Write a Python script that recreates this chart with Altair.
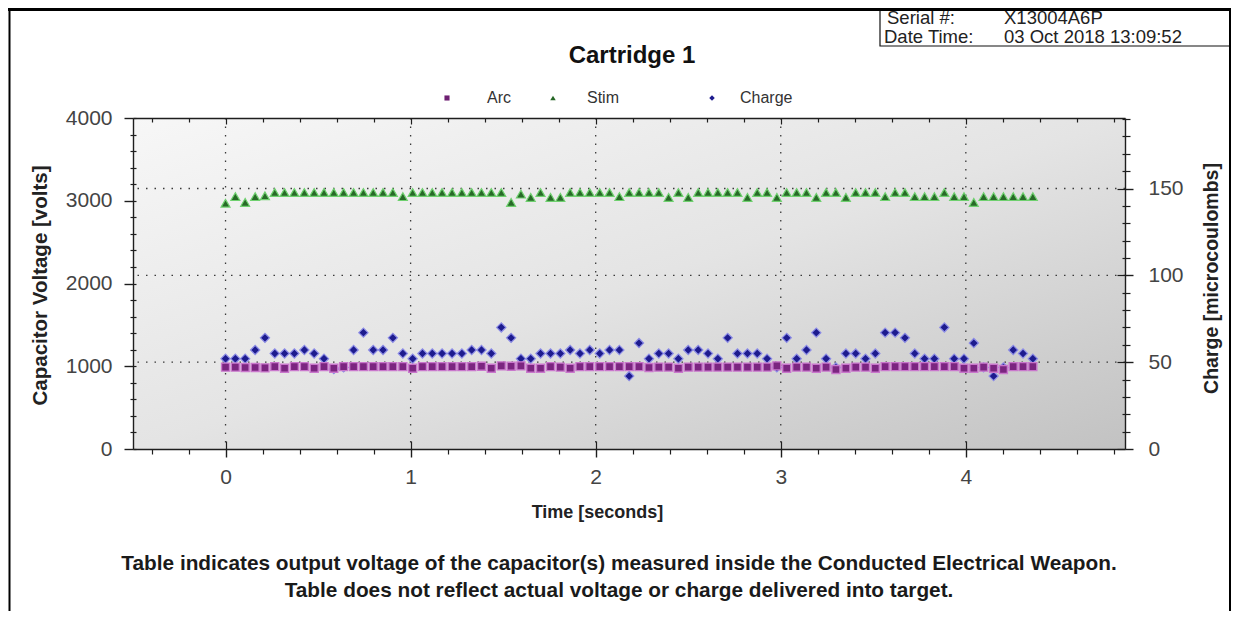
import altair as alt
import pandas as pd

# ---------------- data ----------------
time_s = [0.000, 0.053, 0.106, 0.160, 0.213, 0.266, 0.319, 0.372, 0.426, 0.479,
          0.532, 0.585, 0.638, 0.692, 0.745, 0.798, 0.851, 0.904, 0.958, 1.011,
          1.064, 1.117, 1.170, 1.224, 1.277, 1.330, 1.383, 1.436, 1.490, 1.543,
          1.596, 1.649, 1.702, 1.756, 1.809, 1.862, 1.915, 1.968, 2.022, 2.075,
          2.128, 2.181, 2.234, 2.288, 2.341, 2.394, 2.447, 2.500, 2.554, 2.607,
          2.660, 2.713, 2.766, 2.820, 2.873, 2.926, 2.979, 3.032, 3.086, 3.139,
          3.192, 3.245, 3.298, 3.352, 3.405, 3.458, 3.511, 3.564, 3.618, 3.671,
          3.724, 3.777, 3.830, 3.884, 3.937, 3.990, 4.043, 4.096, 4.150, 4.203,
          4.256, 4.309, 4.362]

stim_volts = [2970, 3050, 2980, 3050, 3060, 3100, 3100, 3100, 3100, 3100,
              3100, 3100, 3100, 3100, 3100, 3100, 3100, 3100, 3050, 3100,
              3100, 3100, 3100, 3100, 3100, 3100, 3100, 3100, 3100, 2980,
              3080, 3040, 3100, 3040, 3040, 3100, 3100, 3100, 3100, 3100,
              3050, 3100, 3100, 3100, 3100, 3040, 3100, 3040, 3100, 3100,
              3100, 3100, 3100, 3040, 3100, 3100, 3040, 3100, 3100, 3100,
              3040, 3100, 3100, 3040, 3100, 3100, 3100, 3050, 3100, 3100,
              3050, 3050, 3050, 3100, 3050, 3050, 2980, 3050, 3050, 3050,
              3050, 3050, 3050]

arc_volts = [990, 990, 985, 985, 980, 995, 975, 995, 995, 975,
             995, 975, 995, 995, 995, 995, 995, 995, 995, 975,
             995, 995, 995, 995, 995, 995, 1000, 975, 1005, 1000,
             1005, 975, 975, 995, 990, 975, 995, 995, 995, 995,
             995, 995, 995, 985, 990, 990, 975, 990, 990, 990,
             990, 990, 990, 990, 990, 990, 1005, 975, 990, 990,
             975, 990, 960, 975, 990, 990, 975, 995, 995, 995,
             995, 995, 995, 995, 995, 975, 975, 990, 975, 960,
             995, 995, 995]

charge_uc = [52, 52, 52, 57, 64, 55, 55, 55, 57, 55,
             52, 46, 47, 57, 67, 57, 57, 64, 55, 52,
             55, 55, 55, 55, 55, 57, 57, 55, 70, 64,
             52, 52, 55, 55, 55, 57, 55, 57, 55, 57,
             57, 42, 61, 52, 55, 55, 52, 57, 57, 55,
             52, 64, 55, 55, 55, 52, 47, 64, 52, 57,
             67, 52, 47, 55, 55, 52, 55, 67, 67, 64,
             55, 52, 52, 70, 52, 52, 61, 47, 42, 47,
             57, 55, 52]

# tick / grid values
x_major = [0, 1, 2, 3, 4]
x_minor = [-0.4, -0.2, 0.2, 0.4, 0.6, 0.8, 1.2, 1.4, 1.6, 1.8, 2.2, 2.4, 2.6, 2.8,
           3.2, 3.4, 3.6, 3.8, 4.2, 4.4, 4.6, 4.8]
volt_major = [0, 1000, 2000, 3000, 4000]
volt_minor = [200, 400, 600, 800, 1200, 1400, 1600, 1800, 2200, 2400, 2600, 2800,
              3200, 3400, 3600, 3800]
charge_major = [0, 50, 100, 150]
charge_minor = [10, 20, 30, 40, 60, 70, 80, 90, 110, 120, 130, 140, 160, 170, 180, 190]
grid_time = [0, 1, 2, 3, 4]
grid_charge = [50, 100, 150]

# texts
title_text = "Cartridge 1"
series_names = ["Arc", "Stim", "Charge"]
x_title = "Time [seconds]"
y_left_title = "Capacitor Voltage [volts]"
y_right_title = "Charge [microcoulombs]"
caption_lines = ["Table indicates output voltage of the capacitor(s) measured inside the Conducted Electrical Weapon.",
                 "Table does not reflect actual voltage or charge delivered into target."]
serial_labels = ["Serial #:", "Date Time:"]
serial_values = ["X13004A6P", "03 Oct 2018 13:09:52"]

# ---------------- layout / style ----------------
FONT = "Liberation Sans"
W, H = 992, 331
PAD_L, PAD_T = 125, 110
TOTAL_W, TOTAL_H = 1223, 603
AX = "#1e1e1e"
LBL = "#444444"

df = pd.DataFrame({"Time": time_s, "Arc": arc_volts, "Stim": stim_volts, "Charge": charge_uc})
one = pd.DataFrame({"k": [0]})

xs = alt.Scale(domain=[-0.5, 4.86], nice=False, zero=False)
yls = alt.Scale(domain=[0, 4000], nice=False, zero=False)
yrs = alt.Scale(domain=[0, 190.6], nice=False, zero=False)


def tick_axis(orient, values, size, offset=0, domain=False):
    return alt.Axis(orient=orient, values=values, tickSize=size, offset=offset,
                    domain=domain, domainColor=AX, domainWidth=1.4,
                    ticks=size > 0, labels=False, grid=False, title="",
                    tickColor=AX, tickWidth=1.2, zindex=1)


x_main = alt.Axis(orient="bottom", values=x_major, format="d", tickSize=8, tickWidth=1.4,
                  tickColor=AX, domain=True, domainColor=AX, domainWidth=1.4,
                  labelFont=FONT, labelFontSize=21, labelColor=LBL, labelPadding=9,
                  labelOverlap=False, labelFlush=False, grid=False,
                  title=x_title, titleFont=FONT, titleFontSize=18, titleFontWeight="bold",
                  titleColor="#222", titleX=464, titleY=63, titleAlign="center",
                  titleBaseline="middle", titleAngle=0, zindex=1)

yl_main = alt.Axis(orient="left", values=volt_major, format="d", tickSize=9, tickWidth=1.4,
                   tickColor=AX, domain=True, domainColor=AX, domainWidth=1.4,
                   labelFont=FONT, labelFontSize=21, labelColor=LBL, labelPadding=12,
                   labelOverlap=False, labelFlush=False, grid=False,
                   title=y_left_title, titleFont=FONT, titleFontSize=20.5, titleFontWeight="bold",
                   titleColor="#222", titleX=-93, titleY=167, titleAngle=270,
                   titleAlign="center", titleBaseline="middle", zindex=1)

yr_main = alt.Axis(orient="right", values=charge_major, format="d", tickSize=8, tickWidth=1.4,
                   tickColor=AX, domain=True, domainColor=AX, domainWidth=1.4,
                   labelFont=FONT, labelFontSize=21, labelColor=LBL, labelPadding=15,
                   labelOverlap=False, labelFlush=False, grid=False,
                   title=y_right_title, titleFont=FONT, titleFontSize=19.5, titleFontWeight="bold",
                   titleColor="#222", titleX=86, titleY=160, titleAngle=270,
                   titleAlign="center", titleBaseline="middle", zindex=1)

# ---------------- layers ----------------
bg = alt.Chart(one).mark_rect(
    fill={"gradient": "linear", "x1": 0, "y1": 0, "x2": 1, "y2": 1,
          "stops": [{"offset": 0, "color": "#f7f7f7"}, {"offset": 0.5, "color": "#e4e4e4"},
                    {"offset": 1, "color": "#c2c2c2"}]}
).encode(x=alt.value(0), x2=alt.value(W), y=alt.value(0), y2=alt.value(H))

grid_v = alt.Chart(pd.DataFrame({"t": grid_time})).mark_rule(
    color="#3a3a3a", strokeWidth=1.3, strokeDash=[1.5, 7]
).encode(x=alt.X("t:Q", scale=xs, axis=None))

grid_h = alt.Chart(pd.DataFrame({"c": grid_charge})).mark_rule(
    color="#3a3a3a", strokeWidth=1.3, strokeDash=[1.5, 7]
).encode(y=alt.Y("c:Q", scale=yrs, axis=None))

charge_pts = alt.Chart(df).mark_point(
    shape="diamond", filled=True, size=85, fill="#1d1b8e", stroke="#8c8ce6",
    strokeWidth=1.2, opacity=1
).encode(x=alt.X("Time:Q", scale=xs, axis=None),
         y=alt.Y("Charge:Q", scale=yrs, axis=yr_main))

arc_pts = alt.Chart(df).mark_point(
    shape="square", filled=True, size=64, fill="#7b2580", stroke="#c977cc",
    strokeWidth=1.4, opacity=1
).encode(x=alt.X("Time:Q", scale=xs, axis=x_main),
         y=alt.Y("Arc:Q", scale=yls, axis=yl_main))

stim_pts = alt.Chart(df).mark_point(
    shape="triangle-up", filled=True, size=80, fill="#276a27", stroke="#6fd06f",
    strokeWidth=1.2, opacity=1
).encode(x=alt.X("Time:Q", scale=xs, axis=None),
         y=alt.Y("Stim:Q", scale=yls, axis=None))


def axis_layer(xaxis, yfield, yscale, yaxis):
    return alt.Chart(df).mark_point(opacity=0).encode(
        x=alt.X("Time:Q", scale=xs, axis=xaxis),
        y=alt.Y(yfield, scale=yscale, axis=yaxis))


ax1 = axis_layer(tick_axis("bottom", x_minor, 5), "Arc:Q", yls, tick_axis("left", volt_minor, 6, offset=-3))
ax2 = axis_layer(tick_axis("bottom", x_major, 8, offset=-8), "Charge:Q", yrs, tick_axis("right", charge_minor, 5))
ax3 = axis_layer(tick_axis("top", x_major, 0, domain=True), "Charge:Q", yrs, tick_axis("right", charge_major, 8, offset=-8))
ax4 = axis_layer(tick_axis("top", x_minor, 4, offset=-4), "Charge:Q", yrs, tick_axis("right", charge_minor, 3, offset=-3))
ax5 = axis_layer(tick_axis("top", x_major, 6, offset=-6), "Arc:Q", yls, tick_axis("left", volt_major, 3, offset=-3))

# ---------------- annotations ----------------
title = alt.Chart(one).mark_text(
    text=title_text, font=FONT, fontSize=24, fontWeight="bold", color="#111",
    align="center", baseline="middle"
).encode(x=alt.value(499), y=alt.value(-62))

legend_y = -20
leg_arc_sym = alt.Chart(one).mark_point(shape="square", filled=True, size=26, color="#6e1f72", opacity=1
                                        ).encode(x=alt.value(314), y=alt.value(legend_y))
leg_stim_sym = alt.Chart(one).mark_point(shape="triangle-up", filled=True, size=30, color="#246624", opacity=1
                                         ).encode(x=alt.value(420), y=alt.value(legend_y))
leg_charge_sym = alt.Chart(one).mark_point(shape="diamond", filled=True, size=30, color="#1d1b8e", opacity=1
                                           ).encode(x=alt.value(579), y=alt.value(legend_y))


def leg_text(txt, x):
    return alt.Chart(one).mark_text(text=txt, font=FONT, fontSize=16, color="#333",
                                    align="left", baseline="middle"
                                    ).encode(x=alt.value(x), y=alt.value(legend_y))


leg_arc_txt = leg_text(series_names[0], 354)
leg_stim_txt = leg_text(series_names[1], 454)
leg_charge_txt = leg_text(series_names[2], 607)


def cap_text(txt, y):
    return alt.Chart(one).mark_text(text=txt, font=FONT, fontSize=20.8, fontWeight="bold",
                                    color="#1a1a1a", align="center", baseline="middle"
                                    ).encode(x=alt.value(486), y=alt.value(y))


cap1 = cap_text(caption_lines[0], 446)
cap2 = cap_text(caption_lines[1], 473)

serial_box = alt.Chart(one).mark_rect(fill="white", stroke="#111", strokeWidth=1.2
                                      ).encode(x=alt.value(747), x2=alt.value(1097),
                                               y=alt.value(-109.5), y2=alt.value(-72))


def box_text(txt, x, y):
    return alt.Chart(one).mark_text(text=txt, font=FONT, fontSize=18.5, color="#222",
                                    align="left", baseline="middle"
                                    ).encode(x=alt.value(x), y=alt.value(y))


s1 = box_text(serial_labels[0], 754, -100)
s2 = box_text(serial_values[0], 871, -100)
s3 = box_text(serial_labels[1], 751, -81)
s4 = box_text(serial_values[1], 871, -81)

frame_top = alt.Chart(one).mark_rule(color="#000", strokeWidth=3).encode(
    x=alt.value(-125), x2=alt.value(TOTAL_W - PAD_L), y=alt.value(-108.5))
frame_left = alt.Chart(one).mark_rule(color="#000", strokeWidth=2).encode(
    x=alt.value(-123.5), y=alt.value(-110), y2=alt.value(TOTAL_H - PAD_T))
frame_right = alt.Chart(one).mark_rule(color="#000", strokeWidth=2).encode(
    x=alt.value(1097), y=alt.value(-110), y2=alt.value(TOTAL_H - PAD_T))

chart = alt.layer(
    bg, grid_v, grid_h, charge_pts, arc_pts, stim_pts,
    ax1, ax2, ax3, ax4, ax5,
    title, leg_arc_sym, leg_stim_sym, leg_charge_sym, leg_arc_txt, leg_stim_txt, leg_charge_txt,
    cap1, cap2, serial_box, s1, s2, s3, s4, frame_top, frame_left, frame_right
).resolve_scale(x="independent", y="independent").properties(
    width=W, height=H,
    autosize=alt.AutoSizeParams(type="none"),
    padding={"left": PAD_L, "top": PAD_T, "right": TOTAL_W - PAD_L - W, "bottom": TOTAL_H - PAD_T - H},
    background="white"
).configure_view(strokeWidth=0)

chart.save("out.html", embed_options={"renderer": "svg", "actions": False})
